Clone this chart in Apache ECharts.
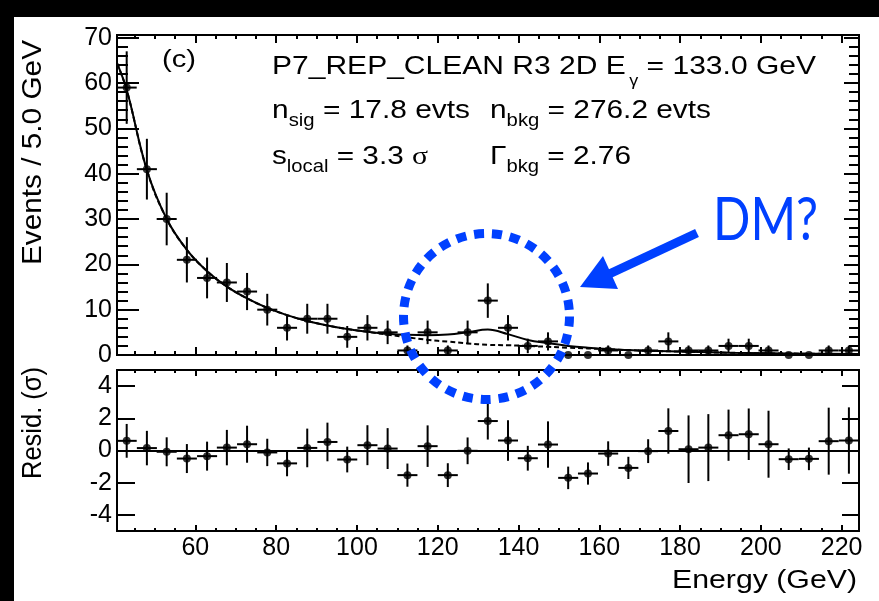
<!DOCTYPE html>
<html><head><meta charset="utf-8">
<script src="https://cdn.jsdelivr.net/npm/echarts@6/dist/echarts.min.js"></script>
<style>html,body{margin:0;padding:0;background:#fff}#c{width:879px;height:601px}</style>
</head><body><div id="c"></div><script>
// ---- data ----
const energies = [43.0, 48.0, 52.9, 57.9, 62.9, 67.8, 72.8, 77.8, 82.7, 87.7, 92.7, 97.6, 102.6, 107.6, 112.5, 117.5, 122.5, 127.4, 132.4, 137.4, 142.3, 147.3, 152.3, 157.2, 162.2, 167.2, 172.1, 177.1, 182.1, 187.0, 192.0, 197.0, 201.9, 206.9, 211.9, 216.8, 221.8];
const counts = [59, 41, 30, 21, 17, 16, 14, 10, 6, 8, 8, 4, 6, 5, 1, 5, 1, 5, 12, 6, 2, 3, 0, 0, 1, 0, 1, 3, 1, 1, 2, 2, 1, 0, 0, 1, 1];
const countErr = [8.0, 6.7, 5.8, 5.0, 4.5, 4.3, 4.1, 3.5, 2.8, 3.3, 3.3, 2.4, 2.8, 2.6, 1.1, 2.6, 1.1, 2.6, 3.8, 2.8, 1.6, 2.0, 0, 0, 1.1, 0, 1.1, 2.0, 1.1, 1.1, 1.6, 1.6, 1.1, 0, 0, 1.1, 1.1];
const resid = [0.6, 0.15, -0.08, -0.5, -0.35, 0.18, 0.39, -0.12, -0.8, 0.16, 0.53, -0.56, 0.33, 0.12, -1.53, 0.27, -1.53, -0.02, 1.83, 0.62, -0.48, 0.37, -1.7, -1.43, -0.19, -1.08, -0.04, 1.21, 0.08, 0.18, 0.95, 1.01, 0.39, -0.54, -0.52, 0.58, 0.62];
const residErr = [1.05, 1.07, 0.9, 0.9, 0.9, 1.1, 1.15, 0.85, 0.8, 1.2, 1.2, 0.8, 1.24, 1.27, 0.72, 1.29, 0.74, 0.83, 1.15, 1.26, 0.77, 1.44, 0.7, 0.69, 0.76, 0.69, 0.74, 1.41, 2.1, 2.08, 1.59, 1.6, 2.08, 0.67, 0.7, 2.08, 2.06];
const curveE = [40.6, 43.0, 48.0, 52.9, 57.9, 62.9, 67.8, 72.8, 77.8, 82.7, 87.7, 92.7, 97.6, 102.6, 107.6, 112.5, 117.5, 122.5, 127.4, 132.4, 137.4, 142.3, 147.3, 152.3, 157.2, 162.2, 167.2, 172.1, 182.1, 192.0, 201.9, 211.9, 224.3];
const fitTotal = [64.4, 58.5, 40.8, 30.0, 23.2, 18.5, 15.1, 12.5, 10.4, 8.8, 7.5, 6.5, 5.75, 5.15, 4.7, 4.45, 4.35, 4.5, 5.0, 5.6, 4.6, 3.3, 2.6, 2.0, 1.6, 1.3, 1.1, 0.95, 0.73, 0.5, 0.37, 0.28, 0.2];
const fitBkg = [64.4, 58.5, 40.8, 30.0, 23.2, 18.5, 15.1, 12.5, 10.4, 8.8, 7.5, 6.5, 5.75, 5.1, 4.5, 3.9, 3.35, 2.95, 2.55, 2.25, 2.15, 2.0, 1.8, 1.6, 1.45, 1.25, 1.08, 0.93, 0.72, 0.5, 0.37, 0.28, 0.2];
const xMajorTicks = [60, 80, 100, 120, 140, 160, 180, 200, 220];
const xMinorTicks = [45, 50, 55, 65, 70, 75, 85, 90, 95, 105, 110, 115, 125, 130, 135, 145, 150, 155, 165, 170, 175, 185, 190, 195, 205, 210, 215];
const yMajorTicks = [0, 10, 20, 30, 40, 50, 60, 70];
const yMinorTicks = [2, 4, 6, 8, 12, 14, 16, 18, 22, 24, 26, 28, 32, 34, 36, 38, 42, 44, 46, 48, 52, 54, 56, 58, 62, 64, 66, 68];
const residTicks = [-4, -2, 0, 2, 4];
const X_MIN = 40.6, X_MAX = 224.3, Y_MAX = 70.6;
const binHalf = 2.48;

// ---- styling helpers ----
const FAM = 'Liberation Sans';
const BLUE = '#0040ff';
const AX = {color: '#000', width: 2};
const mctx = document.createElement('canvas').getContext('2d');
function meas(t, fs, fam) { mctx.font = fs + 'px "' + fam + '"'; return mctx.measureText(t); }
function midOff(fs, fam) { const m = meas('Hg', fs, fam); return (m.fontBoundingBoxAscent - m.fontBoundingBoxDescent) / 2; }

function line(x0, baseline, segs, fs, targetW, color) {
  let w = 0; const pos = [];
  segs.forEach(s => {
    const f = fs * (s.k || 1); w += (s.dx || 0); pos.push(w);
    w += meas(s.t, f, s.fam || FAM).width;
  });
  const sc = targetW ? targetW / w : 1;
  return segs.map((s, i) => {
    const f = fs * (s.k || 1); const fam = s.fam || FAM;
    const by = baseline + (s.dy || 0) * fs;
    return {type: 'text', x: x0 + pos[i] * sc, y: by - midOff(f, fam), scaleX: sc, z: 50,
      style: {text: s.t, fontSize: f, fontFamily: fam, fill: color || '#000', align: 'left', verticalAlign: 'middle'}};
  });
}
function vtitle(text, xMid, yEnd, fs, len) {
  const w = meas(text, fs, FAM).width;
  return {type: 'text', x: xMid, y: yEnd, rotation: Math.PI / 2, scaleX: len / w, z: 50,
    style: {text, fontSize: fs, fontFamily: FAM, fill: '#000', align: 'right', verticalAlign: 'middle'}};
}
const SUB = {k: 0.68, dy: 0.27};

function xAx(grid, pos, ticks, len, labels) {
  return {gridIndex: grid, type: 'value', position: pos, min: X_MIN, max: X_MAX,
    axisLine: {show: true, onZero: false, lineStyle: AX},
    axisTick: {show: true, inside: true, length: len, customValues: ticks, lineStyle: AX},
    axisLabel: {show: !!labels, customValues: ticks, color: '#000', fontSize: 25, fontFamily: FAM, margin: 5},
    splitLine: {show: false}, minorTick: {show: false}};
}
function yAx(grid, pos, min, max, ticks, len, labels) {
  return {gridIndex: grid, type: 'value', position: pos, min, max,
    axisLine: {show: true, onZero: false, lineStyle: AX},
    axisTick: {show: true, inside: true, length: len, customValues: ticks, lineStyle: AX},
    axisLabel: {show: !!labels, customValues: ticks, color: '#000', fontSize: 25, fontFamily: FAM, margin: 5},
    splitLine: {show: false}, minorTick: {show: false}};
}
function errRender(params, api) {
  const x = api.value(0), y = api.value(1), e = api.value(2);
  const a = api.coord([x - binHalf, y]), b = api.coord([x + binHalf, y]);
  const t = api.coord([x, y + e]), d = api.coord([x, y - e]);
  const st = {stroke: '#000', lineWidth: 2};
  return {type: 'group', children: [
    {type: 'line', shape: {x1: a[0], y1: a[1], x2: b[0], y2: b[1]}, style: st},
    {type: 'line', shape: {x1: t[0], y1: t[1], x2: d[0], y2: d[1]}, style: st}]};
}

const chart = echarts.init(document.getElementById('c'), null, {renderer: 'canvas'});

const dmW = meas('DM?', 60, 'Lato').width;
const graphicEls = [
  {type: 'rect', shape: {x: 0, y: 0, width: 879, height: 17}, style: {fill: '#000'}, z: 60},
  {type: 'rect', shape: {x: 0, y: 0, width: 14, height: 601}, style: {fill: '#000'}, z: 60},
  ...line(162, 69, [{t: '(c)'}], 23, 34),
  ...line(272, 76, [{t: 'P7_REP_CLEAN R3 2D E'}, {t: 'γ', k: 0.6, dy: 0.42, dx: 3}, {t: ' = 133.0 GeV'}], 26, 544),
  ...line(272, 120, [{t: 'n'}, Object.assign({t: 'sig'}, SUB), {t: ' = 17.8 evts'}], 26, 198),
  ...line(490, 120, [{t: 'n'}, Object.assign({t: 'bkg'}, SUB), {t: ' = 276.2 evts'}], 26, 221),
  ...line(272, 166, [{t: 's'}, Object.assign({t: 'local'}, SUB), {t: ' = 3.3 '}, {t: 'σ', fam: 'Liberation Serif'}], 26, 156),
  ...line(490, 166, [{t: 'Γ'}, Object.assign({t: 'bkg'}, SUB), {t: ' = 2.76'}], 26, 141),
  ...line(672, 590, [{t: 'Energy (GeV)'}], 26, 185),
  vtitle('Events / 5.0 GeV', 33, 40, 28, 225),
  vtitle('Resid. (σ)', 33, 367, 28, 112),
  {type: 'circle', shape: {cx: 486.5, cy: 316.5, r: 83}, z: 40,
    style: {fill: 'none', stroke: BLUE, lineWidth: 9, lineDash: [10, 8]}},
  {type: 'line', shape: {x1: 697, y1: 233, x2: 606, y2: 275.5}, z: 40, style: {stroke: BLUE, lineWidth: 9}},
  {type: 'polygon', shape: {points: [[580, 287], [603, 256], [618, 289]]}, z: 40, style: {fill: BLUE}},
  {type: 'text', x: 713, y: 243.3 - midOff(60, 'Lato'), scaleX: 105 / dmW, z: 50,
    style: {text: 'DM?', fontSize: 60, fontFamily: 'Lato', fill: BLUE, align: 'left', verticalAlign: 'middle'}}
];

chart.setOption({
  animation: false,
  backgroundColor: '#fff',
  grid: [
    {left: 117, top: 35, width: 742, height: 320, containLabel: false, outerBoundsMode: 'none'},
    {left: 117, top: 370, width: 742, height: 161, containLabel: false, outerBoundsMode: 'none'}
  ],
  xAxis: [
    xAx(0, 'bottom', xMajorTicks, 8, false), xAx(0, 'bottom', xMinorTicks, 4, false),
    xAx(0, 'top', xMajorTicks, 8, false), xAx(0, 'top', xMinorTicks, 4, false),
    xAx(1, 'bottom', xMajorTicks, 6, true), xAx(1, 'bottom', xMinorTicks, 3, false),
    xAx(1, 'top', xMajorTicks, 6, false), xAx(1, 'top', xMinorTicks, 3, false)
  ],
  yAxis: [
    yAx(0, 'left', 0, Y_MAX, yMajorTicks, 22, true), yAx(0, 'left', 0, Y_MAX, yMinorTicks, 11, false),
    yAx(0, 'right', 0, Y_MAX, yMajorTicks, 15, false), yAx(0, 'right', 0, Y_MAX, yMinorTicks, 10, false),
    yAx(1, 'left', -5, 5, residTicks, 18, true), yAx(1, 'right', -5, 5, residTicks, 17, false)
  ],
  series: [
    {type: 'line', xAxisIndex: 0, yAxisIndex: 0, data: curveE.map((e, i) => [e, fitBkg[i]]), showSymbol: false,
      smooth: 0.4, silent: true, z: 2, lineStyle: {color: '#000', width: 2, type: [5, 3]}},
    {type: 'line', xAxisIndex: 0, yAxisIndex: 0, data: curveE.map((e, i) => [e, fitTotal[i]]), showSymbol: false,
      smooth: 0.4, silent: true, z: 3, lineStyle: {color: '#000', width: 2}},
    {type: 'custom', xAxisIndex: 0, yAxisIndex: 0, renderItem: errRender, clip: true, silent: true, z: 4,
      data: energies.map((e, i) => [e, counts[i], countErr[i]])},
    {type: 'scatter', xAxisIndex: 0, yAxisIndex: 0, data: energies.map((e, i) => [e, counts[i]]), symbolSize: 8,
      clip: false, silent: true, z: 5, itemStyle: {color: '#000'}},
    {type: 'custom', xAxisIndex: 4, yAxisIndex: 4, renderItem: errRender, clip: true, silent: true, z: 4,
      data: energies.map((e, i) => [e, resid[i], residErr[i]])},
    {type: 'scatter', xAxisIndex: 4, yAxisIndex: 4, data: energies.map((e, i) => [e, resid[i]]), symbolSize: 8,
      clip: false, silent: true, z: 5, itemStyle: {color: '#000'},
      markLine: {silent: true, symbol: ['none', 'none'], label: {show: false}, animation: false,
        lineStyle: {color: '#000', width: 2, type: 'solid'}, data: [{yAxis: 0}]}}
  ],
  graphic: {elements: graphicEls}
});
</script></body></html>
